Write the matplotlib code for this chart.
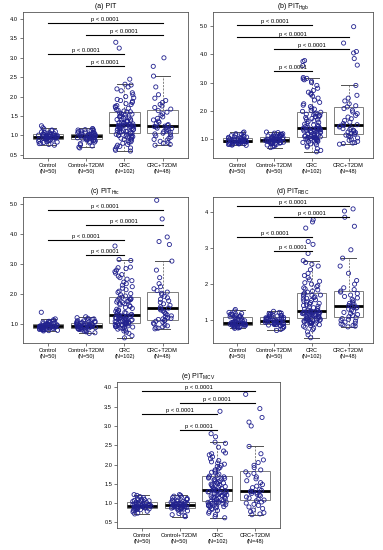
import numpy as np
import matplotlib
matplotlib.use("Agg")
import matplotlib.pyplot as plt

plt.rcParams['font.family'] = ['Liberation Sans', 'DejaVu Sans']
plt.rcParams['mathtext.fontset'] = 'custom'
plt.rcParams['mathtext.rm'] = 'Liberation Sans'
plt.rcParams['mathtext.it'] = 'Liberation Sans:italic'

group_labels = ["Control\n(N=50)", "Control+T2DM\n(N=50)", "CRC\n(N=102)", "CRC+T2DM\n(N=48)"]
p_text = "p < 0.0001"

# (a) PIT
pit_control = [0.75, 0.77, 0.79, 0.80, 0.82, 0.83, 0.84, 0.85, 0.86, 0.87, 0.88, 0.89, 0.90, 0.90, 0.91,
               0.92, 0.93, 0.93, 0.94, 0.94, 0.95, 0.95, 0.96, 0.96, 0.97, 0.97, 0.98, 0.98, 0.99, 0.99,
               1.00, 1.00, 1.01, 1.01, 1.02, 1.02, 1.03, 1.03, 1.04, 1.05, 1.06, 1.07, 1.08, 1.09, 1.10,
               1.12, 1.14, 1.17, 1.20, 1.25]
pit_control_t2dm = [0.68, 0.70, 0.73, 0.76, 0.79, 0.81, 0.83, 0.85, 0.86, 0.87, 0.88, 0.89, 0.90, 0.91, 0.92,
                    0.93, 0.93, 0.94, 0.95, 0.95, 0.96, 0.96, 0.97, 0.97, 0.98, 0.98, 0.99, 0.99, 1.00, 1.00,
                    1.01, 1.01, 1.02, 1.03, 1.03, 1.04, 1.05, 1.05, 1.06, 1.07, 1.08, 1.09, 1.10, 1.11, 1.12,
                    1.13, 1.14, 1.15, 1.16, 1.18]
pit_crc = [0.60, 0.62, 0.65, 0.68, 0.70, 0.72, 0.75, 0.77, 0.80, 0.82, 0.84, 0.86, 0.88, 0.90, 0.91,
           0.93, 0.94, 0.96, 0.97, 0.98, 0.99, 1.00, 1.01, 1.02, 1.03, 1.05,
           1.06, 1.07, 1.08, 1.09, 1.10, 1.11, 1.12, 1.13, 1.14, 1.15, 1.16, 1.17, 1.18, 1.19, 1.20,
           1.21, 1.22, 1.22, 1.23, 1.24, 1.25, 1.25, 1.26, 1.26, 1.27,
           1.28, 1.29, 1.30, 1.31, 1.32, 1.33, 1.34, 1.35, 1.36, 1.37, 1.38, 1.40, 1.41, 1.42, 1.44,
           1.45, 1.47, 1.48, 1.50, 1.52, 1.53, 1.55, 1.56, 1.58, 1.60,
           1.61, 1.63, 1.65, 1.67, 1.70, 1.72, 1.75, 1.77, 1.80, 1.82, 1.85, 1.88, 1.90, 1.93, 1.97,
           2.00, 2.05, 2.10, 2.15, 2.20, 2.25, 2.30, 2.32, 2.45, 3.25, 3.40]
pit_crc_t2dm = [0.75, 0.77, 0.80, 0.82, 0.85, 0.88, 0.90, 0.93, 0.96, 0.99, 1.02, 1.04,
                1.06, 1.08, 1.10, 1.12, 1.14, 1.16, 1.18, 1.19, 1.20, 1.22, 1.23, 1.24,
                1.26, 1.28, 1.31, 1.34, 1.37, 1.40, 1.44, 1.48, 1.52, 1.56, 1.60, 1.64,
                1.68, 1.72, 1.76, 1.80, 1.85, 1.90, 1.96, 2.05, 2.25, 2.53, 2.78, 3.00]

# (b) PIT Hgb
hgb_control = [0.78, 0.79, 0.80, 0.81, 0.82, 0.83, 0.84, 0.84, 0.85, 0.86, 0.86, 0.87, 0.88, 0.88, 0.89,
               0.89, 0.90, 0.90, 0.91, 0.91, 0.92, 0.92, 0.92, 0.93, 0.93, 0.94, 0.94, 0.95, 0.95, 0.96,
               0.97, 0.97, 0.98, 0.99, 1.00, 1.01, 1.03, 1.04, 1.05, 1.06, 1.07, 1.08, 1.09, 1.10, 1.12,
               1.14, 1.16, 1.19, 1.22, 1.25]
hgb_control_t2dm = [0.70, 0.73, 0.76, 0.79, 0.81, 0.83, 0.84, 0.85, 0.86, 0.86, 0.87, 0.87, 0.88, 0.89, 0.90,
                    0.91, 0.92, 0.93, 0.94, 0.94, 0.95, 0.96, 0.96, 0.97, 0.98, 0.98, 0.99, 1.00, 1.01, 1.02,
                    1.03, 1.04, 1.05, 1.06, 1.07, 1.07, 1.08, 1.09, 1.10, 1.11, 1.12, 1.13, 1.14, 1.15, 1.16,
                    1.17, 1.19, 1.21, 1.23, 1.25]
hgb_crc = [0.55, 0.60, 0.66, 0.72, 0.76, 0.80, 0.83, 0.86, 0.88, 0.90, 0.92, 0.94, 0.95, 0.97, 0.98,
           0.99, 1.00, 1.01, 1.02, 1.03, 1.04, 1.05, 1.06, 1.07, 1.07, 1.08,
           1.09, 1.10, 1.12, 1.13, 1.15, 1.16, 1.18, 1.19, 1.21, 1.22, 1.24, 1.25, 1.27, 1.28, 1.29,
           1.30, 1.31, 1.32, 1.33, 1.34, 1.35, 1.36, 1.36, 1.37, 1.38,
           1.39, 1.40, 1.42, 1.44, 1.46, 1.48, 1.50, 1.53, 1.56, 1.59, 1.62, 1.65, 1.68, 1.70, 1.73,
           1.76, 1.78, 1.80, 1.82, 1.84, 1.86, 1.88, 1.90, 1.92, 1.95,
           1.98, 2.02, 2.06, 2.10, 2.15, 2.20, 2.25, 2.30, 2.38, 2.45, 2.52, 2.58, 2.62, 2.66, 2.72,
           2.80, 2.90, 3.00, 3.05, 3.10, 3.13, 3.15, 3.18, 3.60, 3.75, 3.78]
hgb_crc_t2dm = [0.82, 0.84, 0.86, 0.88, 0.92, 0.96, 1.00, 1.04, 1.08, 1.11, 1.14, 1.17,
                1.19, 1.21, 1.23, 1.25, 1.28, 1.31, 1.34, 1.37, 1.40, 1.43, 1.46, 1.49,
                1.51, 1.55, 1.60, 1.66, 1.72, 1.78, 1.84, 1.90, 1.96, 2.02, 2.08, 2.14,
                2.18, 2.25, 2.35, 2.45, 2.55, 2.90, 3.62, 3.85, 4.05, 4.10, 4.40, 4.98]

# (c) PIT Htc
htc_control = [0.78, 0.79, 0.80, 0.81, 0.82, 0.83, 0.83, 0.84, 0.85, 0.85, 0.86, 0.86, 0.87, 0.87, 0.88,
               0.88, 0.89, 0.89, 0.90, 0.90, 0.91, 0.91, 0.92, 0.92, 0.93, 0.93, 0.94, 0.94, 0.95, 0.95,
               0.96, 0.96, 0.97, 0.97, 0.98, 0.99, 1.00, 1.01, 1.02, 1.03, 1.04, 1.05, 1.06, 1.07, 1.09,
               1.10, 1.12, 1.15, 1.18, 1.40]
htc_control_t2dm = [0.70, 0.72, 0.75, 0.78, 0.80, 0.82, 0.83, 0.84, 0.85, 0.86, 0.86, 0.87, 0.88, 0.88, 0.89,
                    0.89, 0.90, 0.91, 0.91, 0.92, 0.92, 0.93, 0.93, 0.94, 0.95, 0.95, 0.96, 0.97, 0.98, 0.99,
                    1.00, 1.01, 1.02, 1.03, 1.04, 1.04, 1.05, 1.06, 1.07, 1.08, 1.09, 1.10, 1.11, 1.12, 1.14,
                    1.16, 1.18, 1.20, 1.22, 1.25]
htc_crc = [0.55, 0.62, 0.70, 0.74, 0.78, 0.81, 0.84, 0.86, 0.88, 0.90, 0.91, 0.92, 0.93, 0.94, 0.95,
           0.96, 0.97, 0.98, 0.99, 1.00, 1.01, 1.02, 1.03, 1.04, 1.04, 1.05,
           1.06, 1.07, 1.08, 1.09, 1.10, 1.11, 1.12, 1.13, 1.14, 1.15, 1.16, 1.17, 1.18, 1.19, 1.20,
           1.21, 1.22, 1.23, 1.24, 1.25, 1.26, 1.28, 1.29, 1.30, 1.31,
           1.33, 1.35, 1.37, 1.39, 1.41, 1.43, 1.45, 1.47, 1.50, 1.53, 1.56, 1.59, 1.62, 1.65, 1.68,
           1.70, 1.72, 1.74, 1.76, 1.78, 1.80, 1.82, 1.84, 1.85, 1.87,
           1.90, 1.94, 1.98, 2.02, 2.06, 2.10, 2.15, 2.20, 2.25, 2.30, 2.35, 2.40, 2.45, 2.50, 2.55,
           2.60, 2.65, 2.70, 2.75, 2.80, 2.85, 2.88, 2.90, 3.12, 3.15, 3.60]
htc_crc_t2dm = [0.85, 0.87, 0.89, 0.92, 0.95, 0.98, 1.01, 1.04, 1.07, 1.10, 1.12, 1.14,
                1.16, 1.18, 1.20, 1.22, 1.25, 1.28, 1.32, 1.36, 1.40, 1.44, 1.48, 1.52,
                1.54, 1.58, 1.63, 1.68, 1.73, 1.78, 1.83, 1.88, 1.93, 1.98, 2.03, 2.07,
                2.12, 2.18, 2.25, 2.35, 2.55, 2.80, 3.10, 3.65, 3.75, 3.90, 4.50, 5.12]

# (d) PIT RBC
rbc_control = [0.78, 0.79, 0.80, 0.81, 0.82, 0.83, 0.83, 0.84, 0.85, 0.85, 0.86, 0.87, 0.88, 0.88, 0.89,
               0.89, 0.90, 0.90, 0.91, 0.91, 0.92, 0.92, 0.92, 0.93, 0.93, 0.94, 0.95, 0.96, 0.97, 0.98,
               0.99, 1.00, 1.02, 1.03, 1.05, 1.06, 1.08, 1.09, 1.10, 1.11, 1.12, 1.13, 1.14, 1.15, 1.16,
               1.17, 1.19, 1.22, 1.26, 1.30]
rbc_control_t2dm = [0.72, 0.75, 0.78, 0.81, 0.83, 0.85, 0.86, 0.87, 0.88, 0.88, 0.89, 0.89, 0.90, 0.91, 0.91,
                    0.92, 0.93, 0.94, 0.94, 0.95, 0.95, 0.96, 0.96, 0.97, 0.98, 0.98, 0.99, 1.00, 1.01, 1.02,
                    1.03, 1.04, 1.05, 1.06, 1.06, 1.07, 1.08, 1.09, 1.10, 1.11, 1.12, 1.13, 1.14, 1.15, 1.16,
                    1.17, 1.18, 1.20, 1.22, 1.25]
rbc_crc = [0.52, 0.60, 0.68, 0.74, 0.78, 0.81, 0.84, 0.86, 0.88, 0.90, 0.91, 0.92, 0.93, 0.94, 0.95,
           0.96, 0.97, 0.98, 0.99, 1.00, 1.01, 1.02, 1.03, 1.03, 1.04, 1.05,
           1.06, 1.07, 1.08, 1.09, 1.10, 1.11, 1.12, 1.13, 1.14, 1.15, 1.16, 1.16, 1.17, 1.18, 1.19,
           1.19, 1.20, 1.21, 1.21, 1.22, 1.22, 1.23, 1.23, 1.24, 1.24,
           1.26, 1.27, 1.29, 1.31, 1.33, 1.35, 1.37, 1.39, 1.41, 1.43, 1.45, 1.47, 1.49, 1.51, 1.53,
           1.55, 1.57, 1.59, 1.61, 1.63, 1.65, 1.67, 1.69, 1.70, 1.72,
           1.75, 1.78, 1.81, 1.84, 1.87, 1.90, 1.93, 1.96, 2.00, 2.04, 2.08, 2.12, 2.18, 2.24, 2.30,
           2.40, 2.50, 2.55, 2.60, 2.65, 2.85, 3.10, 3.18, 3.55, 3.72, 3.78]
rbc_crc_t2dm = [0.82, 0.84, 0.86, 0.88, 0.90, 0.92, 0.95, 0.98, 1.00, 1.03, 1.05, 1.07,
                1.10, 1.13, 1.16, 1.19, 1.22, 1.25, 1.28, 1.31, 1.34, 1.36, 1.38, 1.39,
                1.41, 1.44, 1.47, 1.50, 1.54, 1.58, 1.62, 1.66, 1.70, 1.74, 1.78, 1.81,
                1.85, 1.90, 2.00, 2.10, 2.30, 2.50, 2.72, 2.95, 3.60, 3.85, 4.02, 4.08]

# (e) PIT MCV
mcv_control = [0.72, 0.74, 0.77, 0.79, 0.81, 0.82, 0.83, 0.84, 0.85, 0.86, 0.86, 0.87, 0.88, 0.88, 0.89,
               0.89, 0.90, 0.90, 0.91, 0.91, 0.92, 0.92, 0.92, 0.93, 0.93, 0.94, 0.94, 0.95, 0.95, 0.96,
               0.96, 0.97, 0.98, 0.99, 1.00, 1.01, 1.02, 1.03, 1.04, 1.05, 1.06, 1.07, 1.08, 1.09, 1.10,
               1.12, 1.14, 1.17, 1.20, 1.22]
mcv_control_t2dm = [0.65, 0.68, 0.70, 0.73, 0.77, 0.80, 0.82, 0.84, 0.85, 0.86, 0.86, 0.87, 0.88, 0.88, 0.89,
                    0.89, 0.90, 0.91, 0.91, 0.92, 0.92, 0.93, 0.93, 0.94, 0.95, 0.95, 0.96, 0.96, 0.97, 0.98,
                    0.98, 0.99, 1.00, 1.01, 1.01, 1.02, 1.03, 1.04, 1.05, 1.06, 1.07, 1.08, 1.09, 1.10, 1.12,
                    1.14, 1.16, 1.18, 1.20, 1.22]
mcv_crc = [0.62, 0.65, 0.70, 0.74, 0.78, 0.81, 0.84, 0.86, 0.88, 0.90, 0.91, 0.92, 0.93, 0.94, 0.95,
           0.96, 0.97, 0.98, 0.99, 1.00, 1.01, 1.02, 1.03, 1.03, 1.04, 1.05,
           1.06, 1.08, 1.09, 1.10, 1.12, 1.13, 1.14, 1.15, 1.16, 1.18, 1.19, 1.20, 1.21, 1.22, 1.23,
           1.24, 1.25, 1.26, 1.27, 1.28, 1.29, 1.30, 1.31, 1.32, 1.32,
           1.34, 1.35, 1.37, 1.38, 1.40, 1.41, 1.43, 1.44, 1.46, 1.47, 1.49, 1.50, 1.52, 1.53, 1.55,
           1.57, 1.58, 1.60, 1.61, 1.63, 1.64, 1.65, 1.67, 1.68, 1.70,
           1.72, 1.75, 1.78, 1.80, 1.83, 1.86, 1.89, 1.92, 1.95, 1.98, 2.01, 2.04, 2.07, 2.10, 2.15,
           2.20, 2.25, 2.28, 2.30, 2.35, 2.45, 2.55, 2.58, 2.72, 2.80, 3.38]
mcv_crc_t2dm = [0.70, 0.72, 0.75, 0.78, 0.82, 0.86, 0.90, 0.94, 0.97, 1.00, 1.03, 1.06,
                1.08, 1.10, 1.13, 1.16, 1.19, 1.21, 1.23, 1.25, 1.27, 1.29, 1.30, 1.31,
                1.33, 1.36, 1.40, 1.44, 1.48, 1.53, 1.58, 1.63, 1.68, 1.73, 1.77, 1.81,
                1.86, 1.92, 1.98, 2.05, 2.12, 2.28, 2.47, 3.00, 3.10, 3.22, 3.45, 3.82]

# bracket pairs (group a, group b, height) for each panel
brackets_pit = [(1, 4, 3.9), (2, 4, 3.6), (1, 3, 3.1), (2, 3, 2.8)]
brackets_hgb = [(1, 3, 5.04), (1, 4, 4.6), (2, 4, 4.2), (2, 3, 3.4)]
brackets_htc = [(1, 4, 4.79), (2, 4, 4.3), (1, 3, 3.8), (2, 3, 3.3)]
brackets_rbc = [(1, 4, 4.17), (2, 4, 3.86), (1, 3, 3.31), (2, 3, 2.91)]
brackets_mcv = [(1, 4, 3.9), (2, 4, 3.6), (1, 3, 3.31), (2, 3, 2.9)]

point_color = "#22228f"


def spread(n, k):
    # sideways jitter, a fixed hash so every run looks the same
    h = np.sin((np.arange(n) + 1) * 12.9898 + k * 78.233) * 43758.5453
    return (h - np.floor(h)) - 0.5


def draw_panel(ax, title, data, ylim, yticks, fmt, brackets, k):
    pos = np.arange(1, len(data) + 1)
    ax.boxplot(data, positions=pos, widths=0.8, showfliers=False, patch_artist=True,
               boxprops=dict(facecolor="white", edgecolor="#7f7f7f", linewidth=0.7),
               medianprops=dict(color="black", linewidth=2.0),
               whiskerprops=dict(color="#707070", linewidth=0.6, linestyle=(0, (2.5, 1.5))),
               capprops=dict(color="#505050", linewidth=0.7),
               capwidths=0.4)
    for i, vals in enumerate(data):
        jit = spread(len(vals), k * 4 + i) * 0.5
        ax.scatter(pos[i] + jit, vals, s=9, facecolors="none", edgecolors=point_color,
                   linewidths=0.6, zorder=3)
    for a, b, h in brackets:
        ax.plot([a, b], [h, h], color="black", linewidth=0.8, zorder=4)
        ax.annotate(p_text, xy=((a + b) / 2, h), xytext=(0, 0.6), textcoords="offset points",
                    ha="center", va="bottom", fontsize=4.2)
    ax.set_xlim(0.34, 4.66)
    ax.set_ylim(*ylim)
    ax.set_yticks(yticks)
    ax.set_yticklabels([fmt % t for t in yticks])
    ax.set_xticks(pos)
    ax.set_xticklabels(group_labels, linespacing=1.25)
    ax.tick_params(length=2, width=0.5, labelsize=4.1, pad=1.5, color="#444444")
    for s in ax.spines.values():
        s.set_linewidth(0.6)
        s.set_color("#555555")
    ax.set_title(title, fontsize=5.0, pad=3)


fig = plt.figure(figsize=(3.83, 5.5), dpi=100)

ax_a = fig.add_axes([0.060, 0.7127, 0.430, 0.2655])
ax_b = fig.add_axes([0.556, 0.7127, 0.418, 0.2655])
ax_c = fig.add_axes([0.060, 0.3764, 0.430, 0.2655])
ax_d = fig.add_axes([0.556, 0.3764, 0.418, 0.2655])
ax_e = fig.add_axes([0.3055, 0.040, 0.4256, 0.2655])

draw_panel(ax_a, "(a) PIT", [pit_control, pit_control_t2dm, pit_crc, pit_crc_t2dm],
           (0.42, 4.18), [0.5, 1.0, 1.5, 2.0, 2.5, 3.0, 3.5, 4.0], "%.1f", brackets_pit, 1)
draw_panel(ax_b, r"(b) PIT$_{\mathrm{Hgb}}$", [hgb_control, hgb_control_t2dm, hgb_crc, hgb_crc_t2dm],
           (0.33, 5.5), [1.0, 2.0, 3.0, 4.0, 5.0], "%.1f", brackets_hgb, 2)
draw_panel(ax_c, r"(c) PIT$_{\mathrm{Htc}}$", [htc_control, htc_control_t2dm, htc_crc, htc_crc_t2dm],
           (0.38, 5.23), [1.0, 2.0, 3.0, 4.0, 5.0], "%.1f", brackets_htc, 3)
draw_panel(ax_d, r"(d) PIT$_{\mathrm{RBC}}$", [rbc_control, rbc_control_t2dm, rbc_crc, rbc_crc_t2dm],
           (0.375, 4.41), [1, 2, 3, 4], "%d", brackets_rbc, 4)
draw_panel(ax_e, r"(e) PIT$_{\mathrm{MCV}}$", [mcv_control, mcv_control_t2dm, mcv_crc, mcv_crc_t2dm],
           (0.355, 4.14), [0.5, 1.0, 1.5, 2.0, 2.5, 3.0, 3.5, 4.0], "%.1f", brackets_mcv, 5)

fig.savefig("out.png", dpi=100)
